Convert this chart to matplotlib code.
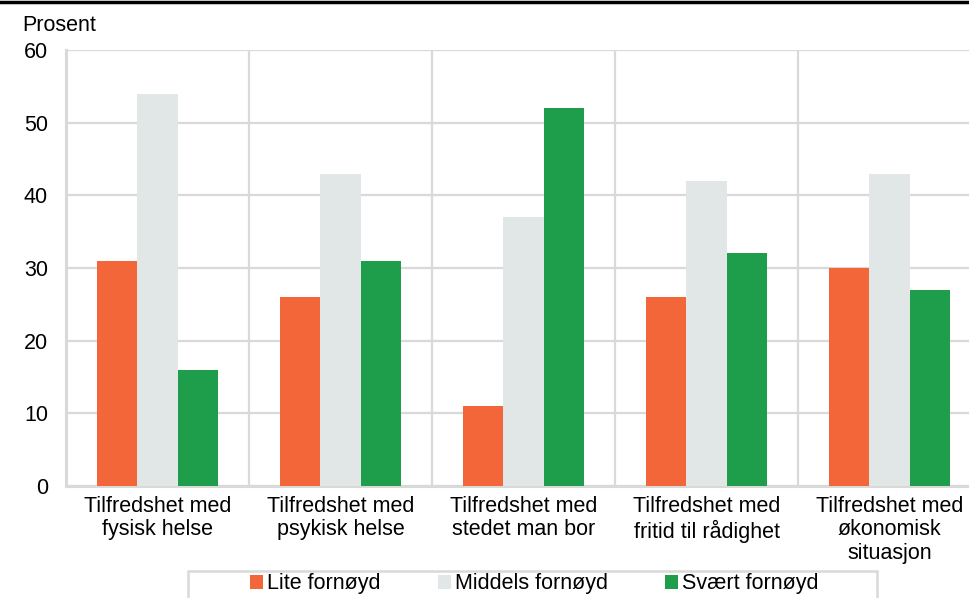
import matplotlib.pyplot as plt
import matplotlib.patches as mpatches
from matplotlib.lines import Line2D
import numpy as np

plt.rcParams['font.family'] = ['Liberation Sans', 'DejaVu Sans']

categories = ["Tilfredshet med\nfysisk helse", "Tilfredshet med\npsykisk helse",
              "Tilfredshet med\nstedet man bor", "Tilfredshet med\nfritid til rådighet",
              "Tilfredshet med\nøkonomisk\nsituasjon"]
lite = [31, 26, 11, 26, 30]
middels = [54, 43, 37, 42, 43]
svaert = [16, 31, 52, 32, 27]
series_names = ["Lite fornøyd", "Middels fornøyd", "Svært fornøyd"]
colors = ["#f2663a", "#e1e6e6", "#1e9e4b"]
grid_col = "#d9d9d9"
fs = 15.5

W, H = 969, 598
fig = plt.figure(figsize=(W / 100, H / 100), dpi=100)
ax = fig.add_axes([66 / W, (H - 486) / H, 915 / W, 436 / H])

x = np.arange(len(categories))
bw = 0.22
bars = []
for i, (vals, c) in enumerate(zip([lite, middels, svaert], colors)):
    bars.append(ax.bar(x + (i - 1) * bw, vals, bw, color=c, zorder=3, label=series_names[i]))

ax.set_xlim(-0.5, len(categories) - 0.5)
ax.set_ylim(0, 60)
ax.set_yticks(range(0, 61, 10))
ax.yaxis.grid(True, color=grid_col, lw=1.6, zorder=0)
for b in np.arange(0.5, len(categories), 1.0):
    ax.axvline(b, color=grid_col, lw=1.6, zorder=0)
ax.set_xticks(x)
ax.set_xticklabels(categories, fontsize=fs, linespacing=1.15)
ax.tick_params(axis='both', length=0, labelsize=fs)
ax.tick_params(axis='y', pad=13)
ax.tick_params(axis='x', pad=7)
for s in ['top', 'right']:
    ax.spines[s].set_visible(False)
for s in ['left', 'bottom']:
    ax.spines[s].set_color(grid_col)
    ax.spines[s].set_linewidth(2.2)

fig.text(22 / W, 1 - 31 / H, "Prosent", fontsize=fs, va='baseline')

# top black rule
fig.add_artist(Line2D([0, 1], [1 - 1.5 / H, 1 - 1.5 / H], color='black', lw=2.5, transform=fig.transFigure))

# legend box (cut at the bottom)
fig.add_artist(mpatches.Rectangle((188 / W, -20 / H), 689 / W, (20 + 598 - 571) / H,
                                  transform=fig.transFigure, fill=False, edgecolor=grid_col, lw=1.8))
fig.legend(handles=bars, labels=series_names, ncol=3, frameon=False, fontsize=fs,
           loc='center left', bbox_to_anchor=(250 / W, 1 - 584 / H),
           handlelength=0.6, handleheight=0.6, handletextpad=0.2, columnspacing=2.65,
           borderpad=0, borderaxespad=0)

fig.savefig("out.png", dpi=100)
